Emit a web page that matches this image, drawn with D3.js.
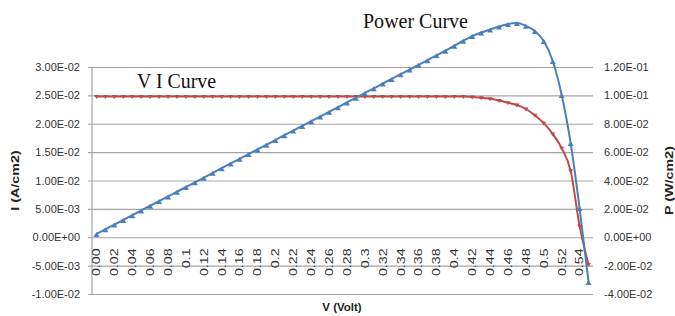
<!DOCTYPE html>
<html><head><meta charset="utf-8">
<script src="https://cdn.jsdelivr.net/npm/d3@7"></script>
<style>body{margin:0;background:#fff;overflow:hidden} svg{display:block}</style>
</head><body><svg id="c" width="675" height="316"></svg>
<script>
const categories = ["0.00","0.01","0.02","0.03","0.04","0.05","0.06","0.07","0.08","0.09",
  "0.1","0.11","0.12","0.13","0.14","0.15","0.16","0.17","0.18","0.19",
  "0.2","0.21","0.22","0.23","0.24","0.25","0.26","0.27","0.28","0.29",
  "0.3","0.31","0.32","0.33","0.34","0.35","0.36","0.37","0.38","0.39",
  "0.4","0.41","0.42","0.43","0.44","0.45","0.46","0.47","0.48","0.49",
  "0.5","0.51","0.52","0.53","0.54","0.55"];
// VI curve: current density I (A/cm2), left axis
const currentI = [0.0248,0.0248,0.0248,0.0248,0.0248,0.0248,0.0248,0.0248,0.0248,0.0248,
  0.0248,0.0248,0.0248,0.0248,0.0248,0.0248,0.0248,0.0248,0.0248,0.0248,
  0.0248,0.0248,0.0248,0.0248,0.0248,0.0248,0.0248,0.0248,0.0248,0.0248,
  0.0248,0.0248,0.0248,0.0248,0.0248,0.0248,0.0248,0.0248,0.0248,0.0248,
  0.0248,0.0248,0.0247,0.0246,0.0244,0.0241,0.0237,0.0233,0.0226,0.0215,
  0.0201,0.0182,0.0157,0.0117,0.0020,-0.0048];
// Power curve: P (W/cm2), right axis
const powerP = [0.0023,0.0056,0.0089,0.0122,0.0155,0.0189,0.0222,0.0255,0.0288,0.0321,
  0.0354,0.0387,0.0420,0.0454,0.0487,0.0520,0.0553,0.0586,0.0619,0.0652,
  0.0685,0.0719,0.0752,0.0785,0.0818,0.0851,0.0884,0.0917,0.0950,0.0984,
  0.1017,0.1050,0.1083,0.1116,0.1149,0.1182,0.1215,0.1248,0.1282,0.1315,
  0.1350,0.1385,0.1418,0.1443,0.1464,0.1485,0.1503,0.1510,0.1490,0.1454,
  0.1383,0.1242,0.1003,0.0664,0.0206,-0.0315];
const leftTicks = [-0.01,-0.005,0,0.005,0.01,0.015,0.02,0.025,0.03];
const leftTickLabels = ["-1.00E-02","-5.00E-03","0.00E+00","5.00E-03","1.00E-02","1.50E-02","2.00E-02","2.50E-02","3.00E-02"];
const rightTicks = [-0.04,-0.02,0,0.02,0.04,0.06,0.08,0.10,0.12];
const rightTickLabels = ["-4.00E-02","-2.00E-02","0.00E+00","2.00E-02","4.00E-02","6.00E-02","8.00E-02","1.00E-01","1.20E-01"];
const xLabels = categories.filter((d,i)=>i%2===0);

const L=92, R=593, T=67, B=294;
const svg = d3.select("#c");
const x = d3.scaleBand().domain(categories).range([L,R]).padding(0);
const cx = d => x(d)+x.bandwidth()/2;
const yL = d3.scaleLinear().domain([-0.01,0.03]).range([B,T]);
const yR = d3.scaleLinear().domain([-0.04,0.12]).range([B,T]);
const font = "'Liberation Sans', Arial, sans-serif";
const txt = "#333";

// gridlines
const grid = svg.append("g").attr("transform",`translate(${L-4},0)`)
  .call(d3.axisRight(yL).tickValues(leftTicks).tickSize(R-L+4).tickFormat(""));
grid.select(".domain").remove();
grid.selectAll("line").attr("stroke","#a3a3a3").attr("stroke-width",1.2);

// left vertical axis line
svg.append("line").attr("x1",L).attr("x2",L).attr("y1",T).attr("y2",B)
  .attr("stroke","#a3a3a3").attr("stroke-width",1.2);

// left labels
const ga = svg.append("g").attr("transform",`translate(${L},0)`)
  .call(d3.axisLeft(yL).tickValues(leftTicks).tickFormat((d,i)=>leftTickLabels[i]).tickSize(0).tickPadding(12));
ga.select(".domain").remove();
ga.selectAll("text").attr("font-family",font).attr("font-size",11).attr("fill",txt);

// right labels
const gr = svg.append("g").attr("transform",`translate(${R},0)`)
  .call(d3.axisRight(yR).tickValues(rightTicks).tickFormat((d,i)=>rightTickLabels[i]).tickSize(0).tickPadding(11));
gr.select(".domain").remove();
gr.selectAll("text").attr("font-family",font).attr("font-size",11).attr("fill",txt);

// x category labels at zero line
const sx = 1.3;
const gx = svg.append("g").attr("transform",`translate(0,${yL(0)})`)
  .call(d3.axisBottom(x).tickValues(xLabels).tickSize(0));
gx.select(".domain").remove();
gx.selectAll("text").attr("font-family",font).attr("font-size",11).attr("fill",txt)
  .attr("text-anchor","end").attr("transform",`rotate(-90) scale(${sx},1)`)
  .attr("x",-11/sx).attr("y",0).attr("dy","0.35em");

// lines
const lineL = d3.line().x((d,i)=>cx(categories[i])).y(d=>yL(d)).curve(d3.curveMonotoneX);
const lineR = d3.line().x((d,i)=>cx(categories[i])).y(d=>yR(d)).curve(d3.curveMonotoneX);
const red = "#be4b48", blue = "#4a7ebb";
svg.append("path").attr("d",lineL(currentI)).attr("fill","none").attr("stroke",red).attr("stroke-width",2);
svg.append("path").attr("d",lineR(powerP)).attr("fill","none").attr("stroke",blue).attr("stroke-width",2);

// markers
svg.append("g").selectAll("path").data(currentI).join("path")
  .attr("transform",(d,i)=>`translate(${cx(categories[i])},${yL(d)})`)
  .attr("d","M-2.5,-1.5L2.5,-1.5L0,2.5Z").attr("fill",red);
svg.append("g").selectAll("path").data(powerP).join("path")
  .attr("transform",(d,i)=>`translate(${cx(categories[i])},${yR(d)+1})`)
  .attr("d","M-3,2L3,2L0,-3Z").attr("fill",blue);

// titles
const serif = "'Liberation Serif', 'Times New Roman', serif";
svg.append("text").attr("x",137).attr("y",88).text("V I Curve")
  .attr("font-family",serif).attr("font-size",22).attr("fill","#111")
  .attr("textLength",79).attr("lengthAdjust","spacingAndGlyphs");
svg.append("text").attr("x",363).attr("y",28).text("Power Curve")
  .attr("font-family",serif).attr("font-size",22).attr("fill","#111")
  .attr("textLength",105).attr("lengthAdjust","spacingAndGlyphs");

const midY = (T+B)/2;
svg.append("text").attr("transform",`translate(19,${midY}) rotate(-90) scale(1.3,1)`)
  .attr("text-anchor","middle").text("I (A/cm2)")
  .attr("font-family",font).attr("font-weight","bold").attr("font-size",11).attr("fill","#222");
svg.append("text").attr("transform",`translate(673,${midY}) rotate(-90) scale(1.3,1)`)
  .attr("text-anchor","middle").text("P (W/cm2)")
  .attr("font-family",font).attr("font-weight","bold").attr("font-size",11).attr("fill","#222");
svg.append("text").attr("x",342).attr("y",311).attr("text-anchor","middle").text("V (Volt)")
  .attr("font-family",font).attr("font-weight","bold").attr("font-size",11.5).attr("fill","#222");
</script></body></html>
